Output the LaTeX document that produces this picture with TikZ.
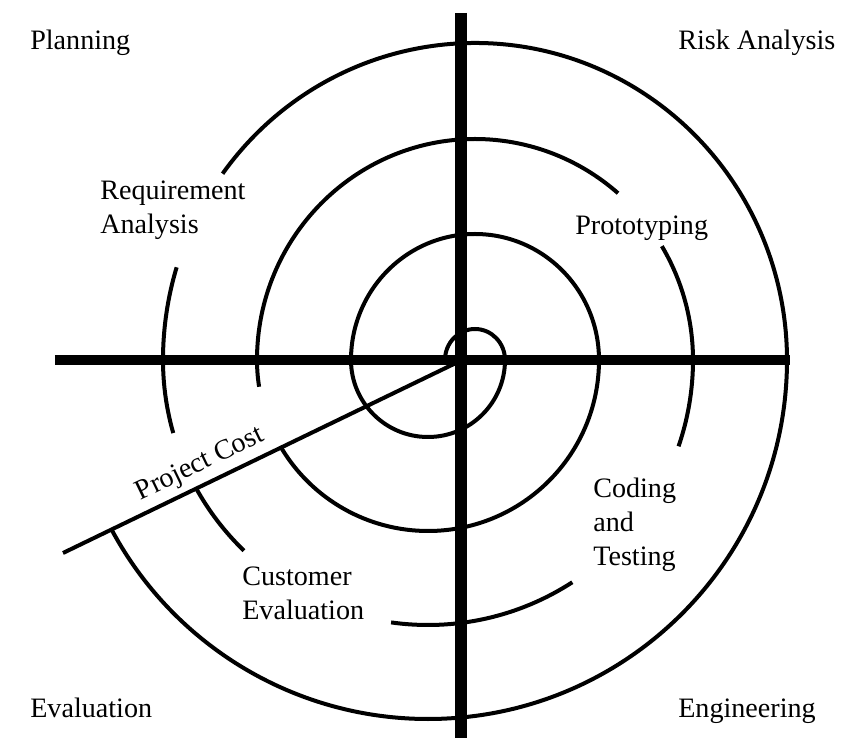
\documentclass[tikz,border=0pt]{standalone}
\usepackage{fontspec}
\setmainfont{Liberation Serif}
\usepackage{tikz}

\begin{document}
\begin{tikzpicture}[x=0.025cm,y=0.025cm,
	spiral/.style={line width=0.1cm},
	vaxis/.style={line width=0.32cm},
	haxis/.style={line width=0.26cm},
	lbl/.style={inner sep=0pt,align=left,font=\fontsize{20}{24.2}\selectfont}]
	\useasboundingbox (-461,-388) rectangle (407,360);
	\coordinate (T) at (14,0);
	\coordinate (B) at (-33,0);
	\coordinate (top) at (0,347);
	\coordinate (bottom) at (0,-378);
	\coordinate (left) at (-406,0);
	\coordinate (right) at (329,0);
	\coordinate (cost-in) at (-3,-2);
	\coordinate (cost-out) at (-398,-193);
	\draw[spiral] ([shift={(180:30)}]T) arc[start angle=180,end angle=0,x radius=30,y radius=31]
		arc[start angle=0,end angle=-180,radius=77]
		arc[start angle=180,end angle=0,x radius=124,y radius=126]
		arc[start angle=0,end angle=-149,radius=171];
	\draw[spiral] ([shift={(-171:171)}]B) arc[start angle=-171,end angle=-180,radius=171]
		arc[start angle=180,end angle=49,x radius=218,y radius=221];
	\draw[spiral] ([shift={(31:218 and 221)}]T) arc[start angle=31,end angle=0,x radius=218,y radius=221]
		arc[start angle=0,end angle=-19,radius=265];
	\draw[spiral] ([shift={(-57:265)}]B) arc[start angle=-57,end angle=-98,radius=265];
	\draw[spiral] ([shift={(-134:265)}]B) arc[start angle=-134,end angle=-151,radius=265];
	\draw[spiral] ([shift={(-164:265)}]B) arc[start angle=-164,end angle=-180,radius=265]
		arc[start angle=180,end angle=163,x radius=312,y radius=317];
	\draw[spiral] ([shift={(144:312 and 317)}]T) arc[start angle=144,end angle=0,x radius=312,y radius=317]
		arc[start angle=0,end angle=-152,radius=359];
	\draw[vaxis] (top) -- (bottom);
	\draw[haxis] (left) -- (right);
	\draw[spiral] (cost-out) -- node[lbl, pos=0.37, sloped, above, inner sep=4pt] {Project Cost} (cost-in);
	\node[lbl, anchor=base west] (planning) at (-431,310) {Planning};
	\node[lbl, anchor=base west] (risk) at (217,310) {Risk Analysis};
	\node[lbl, anchor=base west] (evaluation) at (-431,-357) {Evaluation};
	\node[lbl, anchor=base west] (engineering) at (217,-357) {Engineering};
	\node[lbl, anchor=north west] (requirement) at (-361,179) {Requirement\\Analysis};
	\node[lbl, anchor=base west] (prototyping) at (114,125) {Prototyping};
	\node[lbl, anchor=north west] (coding) at (132,-118) {Coding\\and\\Testing};
	\node[lbl, anchor=north west] (customer) at (-219,-207) {Customer\\Evaluation};
\end{tikzpicture}
\end{document}
